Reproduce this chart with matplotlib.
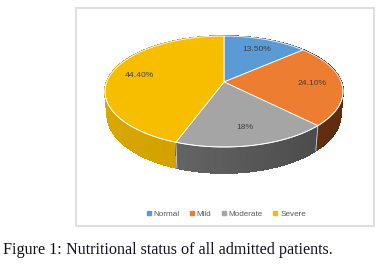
import numpy as np
import matplotlib
matplotlib.use("Agg")
import matplotlib.pyplot as plt
from matplotlib.patches import Polygon, Rectangle
from matplotlib.lines import Line2D

# ---- data ----
categories = ["Normal", "Mild", "Moderate", "Severe"]
values = [13.5, 24.1, 18.0, 44.4]
labels = ["13.50%", "24.10%", "18%", "44.40%"]
top_colors = ["#5B9BD5", "#ED7D31", "#A5A5A5", "#F7BE00"]
side_light = ["#4A7FB0", "#7A3A14", "#747474", "#DAA800"]
side_dark = ["#3A6A96", "#5E2C0E", "#444444", "#C09400"]
caption_bold = "Figure 1:"
caption_rest = " Nutritional status of all admitted patients."

W, H = 388, 272
fig = plt.figure(figsize=(W / 100, H / 100), dpi=100)
ax = fig.add_axes([0, 0, 1, 1])
ax.set_xlim(0, W)
ax.set_ylim(H, 0)
ax.axis("off")

# chart frame
ax.add_patch(Rectangle((76, 8), 298, 218, facecolor="white", edgecolor="#D9D9D9", lw=1.2, zorder=0))

# ---- perspective projection of a 3D pie ----
phi = np.deg2rad(27)
Dist = 5.2
hgt = 0.22
cph, sph = np.cos(phi), np.sin(phi)
C = np.array([0, -Dist * cph, Dist * sph])
fwd = np.array([0, cph, -sph])
up = np.array([0, sph, cph])


def proj_raw(x, y, z):
    rx, ry, rz = x - C[0], y - C[1], z - C[2]
    depth = rx * fwd[0] + ry * fwd[1] + rz * fwd[2]
    sx = rx
    sy = rx * up[0] + ry * up[1] + rz * up[2]
    return sx / depth, -sy / depth, depth

# fit top rim into target box
tt = np.linspace(0, 2 * np.pi, 721)
rx_, ry_, _ = proj_raw(np.cos(tt), np.sin(tt), 0 * tt)
X0, X1, Y0, Y1 = 105, 343, 36, 147
sxs = (X1 - X0) / (rx_.max() - rx_.min())
sys_ = (Y1 - Y0) / (ry_.max() - ry_.min())
ox = X0 - rx_.min() * sxs
oy = Y0 - ry_.min() * sys_


def proj(x, y, z):
    a, b, d = proj_raw(np.asarray(x, float), np.asarray(y, float), np.asarray(z, float))
    return a * sxs + ox, b * sys_ + oy, d

fracs = np.array(values) / np.sum(values)
bounds = 90 - 360 * np.concatenate([[0], np.cumsum(fracs)])

# outer walls, drawn as small quads, far to near
quads = []
for i in range(len(values)):
    a0, a1 = bounds[i], bounds[i + 1]
    n = max(int(abs(a0 - a1) / 1.5), 4)
    angs = np.deg2rad(np.linspace(a0, a1, n + 1))
    for k in range(n):
        t0, t1 = angs[k], angs[k + 1]
        xs = [np.cos(t0), np.cos(t1), np.cos(t1), np.cos(t0)]
        ys = [np.sin(t0), np.sin(t1), np.sin(t1), np.sin(t0)]
        zs = [0, 0, -hgt, -hgt]
        px, py, d = proj(xs, ys, zs)
        tm = 0.5 * (t0 + t1)
        f = (np.cos(tm) + 1) / 2
        c0 = np.array(matplotlib.colors.to_rgb(side_light[i]))
        c1 = np.array(matplotlib.colors.to_rgb(side_dark[i]))
        col = c0 * (1 - f) + c1 * f
        quads.append((np.mean(d), np.column_stack([px, py]), col))
quads.sort(key=lambda q: -q[0])
for _, pts, col in quads:
    ax.add_patch(Polygon(pts, closed=True, facecolor=col, edgecolor=col, lw=0.6,
                         antialiased=False, zorder=1))

# top faces
cx, cy, _ = proj(0, 0, 0)
for i in range(len(values)):
    a0, a1 = bounds[i], bounds[i + 1]
    angs = np.deg2rad(np.linspace(a0, a1, 200))
    px, py, _ = proj(np.cos(angs), np.sin(angs), 0 * angs)
    pts = np.vstack([[cx, cy], np.column_stack([px, py])])
    ax.add_patch(Polygon(pts, closed=True, facecolor=top_colors[i], edgecolor="white", lw=0.6, zorder=3))

# front rim highlight
angs = np.deg2rad(np.linspace(180, 360, 300))
px, py, _ = proj(np.cos(angs), np.sin(angs), 0 * angs)
ax.plot(px, py, color="white", lw=0.6, zorder=4)
# slice edge lines on the wall
for b in bounds[1:-1]:
    t = np.deg2rad(b)
    if np.sin(t) < 0.2:
        px, py, _ = proj([np.cos(t)] * 2, [np.sin(t)] * 2, [0, -hgt])
        ax.plot(px, py, color="#E8E8E8", lw=0.5, zorder=2)

# data labels
for i in range(len(values)):
    tm = np.deg2rad(0.5 * (bounds[i] + bounds[i + 1]))
    px, py, _ = proj(0.75 * np.cos(tm), 0.75 * np.sin(tm), 0)
    ax.text(px, py, labels[i], ha="center", va="center", fontsize=6.1,
            family="Liberation Sans", color="#404040", zorder=5)

# legend
handles = [Line2D([], [], marker="s", ls="", markersize=2.8, markerfacecolor=c,
                  markeredgecolor=c) for c in top_colors]
fig.legend(handles, categories, loc="center", bbox_to_anchor=(226 / W, 1 - 214 / H),
           ncol=4, frameon=False, handlelength=0.6, handletextpad=0.3,
           columnspacing=1.2, prop={"family": "Liberation Sans", "size": 5.9},
           labelcolor="#595959")

# caption
t1 = fig.text(3 / W, 1 - 250 / H, caption_bold, fontsize=11.6, family="Liberation Serif",
              color="#111111", va="center", ha="left")
fig.canvas.draw()
bb = t1.get_window_extent()
fig.text(bb.x1 / W, 1 - 250 / H, caption_rest, fontsize=11.6, family="Liberation Serif",
         color="#111122", va="center", ha="left")

fig.savefig("out.png", dpi=100)
